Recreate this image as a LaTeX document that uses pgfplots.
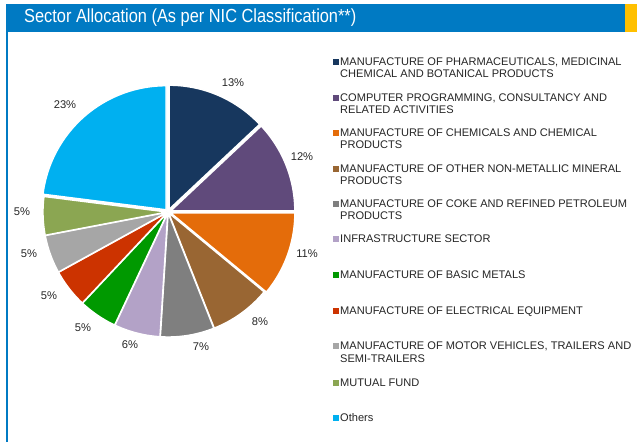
\documentclass[border=0pt]{standalone}
\usepackage{pgfplots}
\pgfplotsset{compat=1.18}
\usepackage{pgfplotstable}
\usepackage{graphicx}
\usepackage{fontspec}
\setmainfont{Liberation Sans}
\definecolor{c1}{HTML}{17375E}
\definecolor{c2}{HTML}{604A7B}
\definecolor{c3}{HTML}{E46C0A}
\definecolor{c4}{HTML}{996633}
\definecolor{c5}{HTML}{7F7F7F}
\definecolor{c6}{HTML}{B3A2C7}
\definecolor{c7}{HTML}{009900}
\definecolor{c8}{HTML}{CC3300}
\definecolor{c9}{HTML}{A6A6A6}
\definecolor{c10}{HTML}{8BA652}
\definecolor{c11}{HTML}{00B0F0}
\definecolor{hdr}{HTML}{007AC3}
\definecolor{hyel}{HTML}{FFC000}
\definecolor{txt}{HTML}{262626}
% start = cumulative share before the slice, pct = share (%), lx ly = label position
\pgfplotstableread{
start pct explode col lx ly
0  13 3 c1  233 359
13 12 3 c2  302 285
25 11 3 c3  307 188
36 8  1 c4  260 120
44 7  1 c5  201 95
51 6  1 c6  130 97
57 5  1 c7  83  114
62 5  1 c8  49  146
67 5  1 c9  29  188
72 5  1 c10 22  230
77 23 3 c11 65  337
}\slices
\newcommand{\pctfont}{\fontsize{11.2}{13}\selectfont\color{txt}}
\newcommand{\legfont}{\fontsize{11.1}{13}\selectfont\color{txt}}
\begin{document}
\begin{tikzpicture}
\begin{axis}[x=1bp, y=1bp, xmin=0, xmax=637, ymin=0, ymax=442,
  hide axis, scale only axis, clip=false]
\fill[white] (axis cs:0,0) rectangle (axis cs:637,442);
% header
\fill[hdr] (axis cs:6,410) rectangle (axis cs:625,438);
\fill[hyel] (axis cs:625,410) rectangle (axis cs:637,438);
\fill[hdr] (axis cs:6,0) rectangle (axis cs:8,410);
\node[anchor=west, text=white, inner sep=0pt] at (axis cs:24,424)
  {\scalebox{0.865}[1]{\fontsize{19}{22}\selectfont Sector Allocation (As per NIC Classification**)}};
% pie
\pgfplotsinvokeforeach{0,...,10}{
  \pgfplotstablegetelem{#1}{start}\of\slices \let\st\pgfplotsretval
  \pgfplotstablegetelem{#1}{pct}\of\slices \let\pc\pgfplotsretval
  \pgfplotstablegetelem{#1}{explode}\of\slices \let\ex\pgfplotsretval
  \pgfplotstablegetelem{#1}{col}\of\slices \let\cl\pgfplotsretval
  \pgfplotstablegetelem{#1}{lx}\of\slices \let\lx\pgfplotsretval
  \pgfplotstablegetelem{#1}{ly}\of\slices \let\ly\pgfplotsretval
  \pgfmathsetmacro\aS{\st*3.6}
  \pgfmathsetmacro\aE{(\st+\pc)*3.6}
  \pgfmathsetmacro\aM{(\st+\pc/2)*3.6}
  \pgfmathsetmacro\ox{168+\ex*sin(\aM)}
  \pgfmathsetmacro\oy{230+\ex*cos(\aM)}
  \edef\tmp{\noexpand\addplot[fill=\cl, draw=white, line width=1.4pt, line join=round,
     domain=\aS:\aE, samples=60, variable=\noexpand\t]
     ({\ox+124*sin(\noexpand\t)},{\oy+124*cos(\noexpand\t)}) -- (axis cs:\ox,\oy) -- cycle;
   \noexpand\node[font=\noexpand\pctfont, inner sep=0pt] at (axis cs:\lx,\ly) {\pc\noexpand\%};}
  \tmp
}
% legend
\newcommand{\legsq}[2]{\fill[#1] (axis cs:333,#2-3) rectangle (axis cs:339,#2+3);}
\newcommand{\legln}[2]{\node[anchor=base west, inner sep=0pt, font=\legfont] at (axis cs:340,#1-4) {#2};}
\legsq{c1}{380}\legln{380}{MANUFACTURE OF PHARMACEUTICALS, MEDICINAL}\legln{368}{CHEMICAL AND BOTANICAL PRODUCTS}
\legsq{c2}{344}\legln{344}{COMPUTER PROGRAMMING, CONSULTANCY AND}\legln{332}{RELATED ACTIVITIES}
\legsq{c3}{309}\legln{309}{MANUFACTURE OF CHEMICALS AND CHEMICAL}\legln{297}{PRODUCTS}
\legsq{c4}{273}\legln{273}{MANUFACTURE OF OTHER NON-METALLIC MINERAL}\legln{261}{PRODUCTS}
\legsq{c5}{238}\legln{238}{MANUFACTURE OF COKE AND REFINED PETROLEUM}\legln{226}{PRODUCTS}
\legsq{c6}{203}\legln{203}{INFRASTRUCTURE SECTOR}
\legsq{c7}{167}\legln{167}{MANUFACTURE OF BASIC METALS}
\legsq{c8}{131}\legln{131}{MANUFACTURE OF ELECTRICAL EQUIPMENT}
\legsq{c9}{96}\legln{96}{MANUFACTURE OF MOTOR VEHICLES, TRAILERS AND}\legln{83}{SEMI-TRAILERS}
\legsq{c10}{59}\legln{59}{MUTUAL FUND}
\legsq{c11}{24}\legln{24}{Others}
\end{axis}
\end{tikzpicture}
\end{document}
